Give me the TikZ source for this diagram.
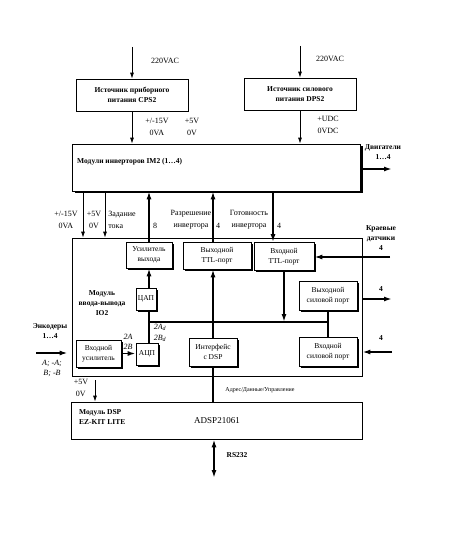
\documentclass[tikz,border=0pt]{standalone}
\usepackage{fontspec}
\setmainfont{Liberation Serif}
\usetikzlibrary{arrows.meta,shadows}
\tikzset{
  blk/.style={draw,line width=0.7pt,fill=white,align=center,inner sep=1pt},
  sblk/.style={blk,general shadow={fill=black,shadow xshift=1.5pt,shadow yshift=-1.5pt},font=\fontsize{7.5}{9.5}\selectfont},
  lab/.style={font=\fontsize{8}{12}\selectfont,align=center,inner sep=1pt},
  blab/.style={font=\fontsize{7.5}{10}\selectfont\bfseries,align=center,inner sep=1pt},
  pw/.style={line width=0.8pt,-{Latex[length=6pt,width=4pt]}},
  sig/.style={line width=1.6pt,-{Latex[length=8pt,width=5pt]}},
  bus/.style={line width=1.6pt}
}
\begin{document}
\begin{tikzpicture}[x=1pt,y=-1pt]
\useasboundingbox (0,0) rectangle (450,534);
\node[blk,blab,minimum width=112pt,minimum height=32pt] (cps) at (132,95) {Источник приборного\\питания CPS2};
\node[blk,blab,minimum width=112pt,minimum height=32pt] (dps) at (300,94) {Источник силового\\питания DPS2};
\node[blk,minimum width=288pt,minimum height=47pt,general shadow={fill=black,shadow xshift=2.5pt,shadow yshift=-2.5pt}] (im) at (216.5,167.5) {};
\node[blab,anchor=west] (imt) at (76,162) {Модули инверторов IM2 (1…4)};
\node[blk,minimum width=290pt,minimum height=138pt] (io) at (217,307) {};
\node[blk,minimum width=291pt,minimum height=37pt] (dsp) at (217,420.5) {};

\node[sblk,minimum width=46pt,minimum height=26pt] (usil) at (149,255) {Усилитель\\выхода};
\node[sblk,minimum width=68pt,minimum height=27pt] (ottl) at (217,255.5) {Выходной\\TTL-порт};
\node[sblk,minimum width=60pt,minimum height=28pt] (ittl) at (284,256.5) {Входной\\TTL-порт};
\node[sblk,minimum width=20pt,minimum height=22pt] (dac) at (146,299) {ЦАП};
\node[sblk,minimum width=22pt,minimum height=22pt] (adc) at (147,354) {АЦП};
\node[sblk,minimum width=45pt,minimum height=27pt] (iamp) at (98.5,353.5) {Входной\\усилитель};
\node[sblk,minimum width=48pt,minimum height=28pt] (dspi) at (213,352) {Интерфейс\\с DSP};
\node[sblk,minimum width=58pt,minimum height=29pt] (opow) at (328,295.5) {Выходной\\силовой порт};
\node[sblk,minimum width=58pt,minimum height=29pt] (ipow) at (328,351.5) {Входной\\силовой порт};

\coordinate (ac1) at (132,47);
\coordinate (ac2) at (300,46);
\coordinate (mot) at (392,169);
\coordinate (xa) at (83,200);
\coordinate (xb) at (105,200);
\coordinate (xt) at (213,200);
\coordinate (xr) at (273,200);
\coordinate (bl) at (149,322);
\coordinate (br) at (328,322);
\coordinate (sen) at (390,257);
\coordinate (po) at (392,299);
\coordinate (pi) at (392,352);
\coordinate (enc) at (36,353);
\coordinate (v5) at (95,380);
\coordinate (rs) at (214,478);

\draw[pw] (ac1) -- (cps.north);
\draw[pw] (ac2) -- (dps.north);
\draw[pw] (cps.south) -- (cps.south |- im.north);
\draw[pw] (dps.south) -- (dps.south |- im.north);
\draw[sig] (im.east |- mot) -- (mot);
\draw[pw] (xa |- im.south) -- (xa |- io.north);
\draw[pw] (xb |- im.south) -- (xb |- io.north);
\draw[sig] (usil.north) -- (usil |- im.south);
\draw[sig] (xt |- ottl.north) -- (xt |- im.south);
\draw[sig] (xr |- im.south) -- (xr |- ittl.north);
\draw[sig] (sen) -- (ittl.east |- sen);
\draw[sig] (ittl.south) -- (ittl.south |- bl);
\draw[sig] (dac.north -| usil) -- (usil.south);
\draw[bus] (dac.south -| usil) -- (adc.north -| usil);
\draw[bus] (bl) -- (br);
\draw[bus] (opow.south) -- (ipow.north);
\draw[sig] (bl -| xt) -- (xt |- ottl.south);
\draw[bus] (dspi.north) -- (dspi.north |- bl);
\draw[bus] (dsp.north -| dspi) -- (dspi.south);
\draw[sig] (io.east |- po) -- (po);
\draw[sig] (pi) -- (io.east |- pi);
\draw[sig,shorten >=4pt] (enc) -- (io.west |- enc);
\draw[sig] (iamp.east) -- (adc.west |- iamp.east);
\draw[pw] (v5) -- (v5 |- dsp.north);
\draw[sig,{Latex[length=8pt,width=5pt]}-{Latex[length=8pt,width=5pt]}] (dsp.south -| rs) -- (rs);

\node[lab] (t1) at (165,61) {220VAC};
\node[lab] (t2) at (330,59) {220VAC};
\node[lab] (t3) at (157,127) {+/-15V\\0VA};
\node[lab] (t4) at (192,127) {+5V\\0V};
\node[lab] (t5) at (328,125) {+UDC\\0VDC};
\node[blab] (t6) at (383,152) {Двигатели\\1…4};
\node[lab] (t7) at (66,220) {+/-15V\\0VA};
\node[lab] (t8) at (94,220) {+5V\\0V};
\node[lab,align=left] (t9) at (122,220) {Задание\\тока};
\node[lab] (t10) at (155,226) {8};
\node[lab] (t11) at (191,220) {Разрешение\\инвертора};
\node[lab] (t12) at (218,226) {4};
\node[lab] (t13) at (249,220) {Готовность\\инвертора};
\node[lab] (t14) at (279,226) {4};
\node[blab] (t15) at (381,238) {Краевые\\датчики\\4};
\node[blab] (t16) at (381,289) {4};
\node[blab] (t17) at (381,338) {4};
\node[blab] (t18) at (102,303) {Модуль\\ввода-вывода\\IO2};
\node[blab] (t19) at (50,331) {Энкодеры\\1…4};
\node[lab,font=\fontsize{8}{10}\selectfont\itshape] (t20) at (52,368) {A; -A;\\B; -B};
\node[lab,font=\fontsize{8}{10}\selectfont\itshape] (t21) at (128,342) {2A\\2B};
\node[lab,font=\fontsize{8}{11}\selectfont\itshape] (t22) at (160,333) {2A\textsubscript{d}\\2B\textsubscript{d}};
\node[lab,font=\fontsize{6}{7}\selectfont] (t23) at (260,390) {Адрес/Данные/Управление};
\node[lab,align=left] (t24) at (81,388) {+5V\\\ 0V};
\node[blab,align=left,anchor=west] (t25) at (78,417) {Модуль DSP\\EZ-KIT LITE};
\node[lab,font=\fontsize{9}{10}\selectfont] (t26) at (217,421) {ADSP21061};
\node[blab] (t27) at (237,455) {RS232};
\end{tikzpicture}
\end{document}
